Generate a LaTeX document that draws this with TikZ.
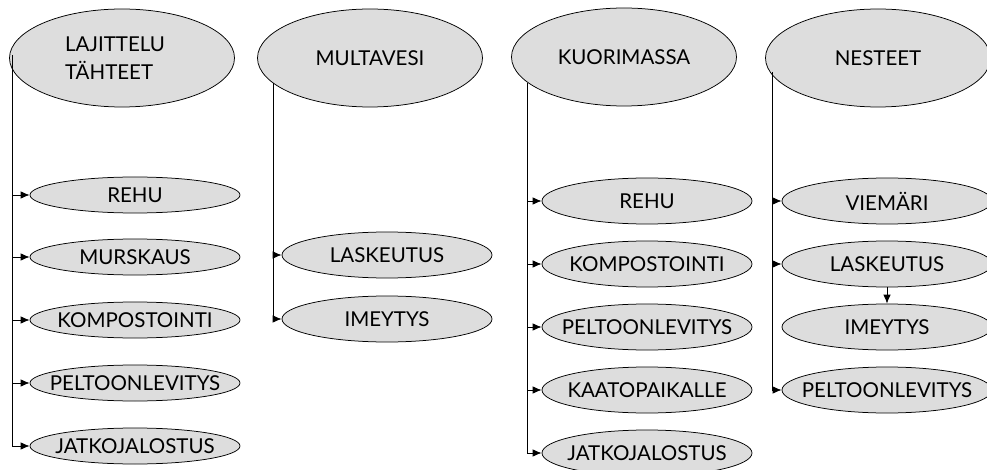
\documentclass[tikz,border=0pt]{standalone}
\usepackage{fontspec}
\setmainfont{Lato}
\usetikzlibrary{shapes.geometric}
\usetikzlibrary{arrows.meta}
\definecolor{ellgray}{RGB}{221,221,221}

\begin{document}
\begin{tikzpicture}[x=1pt,y=-1pt,line width=0.75pt,
        main/.style={ellipse,draw,fill=ellgray,inner sep=-22pt,minimum width=225pt,minimum height=98pt,font=\fontsize{20.5}{28}\selectfont},
        sub/.style={ellipse,draw,fill=ellgray,inner sep=-22pt,minimum width=210pt,minimum height=46pt,font=\fontsize{20.5}{24}\selectfont},
        subs/.style={sub,minimum height=36pt},
        arr/.style={-{Latex[length=9pt,width=7.5pt]}}]
        \useasboundingbox (0,0) rectangle (987,470);
        % main groups
        \node[main,align=left] (lajit) at (122,58) {LAJITTELU\hspace*{14pt}\\TÄHTEET};
        \node[main] (multa) at (370,58) {MULTAVESI};
        \node[main] (kuori) at (624,57) {KUORIMASSA};
        \node[main] (neste) at (878,58) {NESTEET};
        % first column
        \node[subs] (lrehu) at (135,195) {REHU};
        \node[subs] (lmursk) at (135,257) {MURSKAUS};
        \node[subs] (lkomp) at (135,320) {KOMPOSTOINTI};
        \node[subs] (lpelto) at (135,383) {PELTOONLEVITYS};
        \node[subs] (ljatko) at (135,446) {JATKOJALOSTUS};
        % second column
        \node[sub] (mlask) at (387,255) {LASKEUTUS};
        \node[sub] (mimey) at (387,319) {IMEYTYS};
        % third column
        \node[sub] (krehu) at (647,201) {REHU};
        \node[sub] (kkomp) at (647,264) {KOMPOSTOINTI};
        \node[sub] (kpelto) at (647,327) {PELTOONLEVITYS};
        \node[sub] (kkaato) at (647,390) {KAATOPAIKALLE};
        \node[sub] (kjatko) at (647,453) {JATKOJALOSTUS};
        % fourth column
        \node[sub] (nviem) at (887,201) {VIEMÄRI};
        \node[sub] (nlask) at (887,264) {LASKEUTUS};
        \node[sub] (nimey) at (887,327) {IMEYTYS};
        \node[sub] (npelto) at (887,390) {PELTOONLEVITYS};
        % trunks
        \coordinate (la) at (12,55);
        \coordinate (lb) at (12,446);
        \coordinate (ma) at (273,83);
        \coordinate (mb) at (273,319);
        \coordinate (ka) at (527,83);
        \coordinate (kb) at (527,453);
        \coordinate (na) at (772,72);
        \coordinate (nb) at (772,390);
        \draw (la) -- (lb);
        \draw (ma) -- (mb);
        \draw (ka) -- (kb);
        \draw (na) -- (nb);
        \foreach \n in {lrehu,lmursk,lkomp,lpelto,ljatko}
            \draw[arr] (la |- \n.west) -- (\n.west);
        \foreach \n in {mlask,mimey}
            \draw[arr] (ma |- \n.west) -- (\n.west);
        \foreach \n in {krehu,kkomp,kpelto,kkaato,kjatko}
            \draw[arr] (ka |- \n.west) -- (\n.west);
        \foreach \n in {nviem,nlask,npelto}
            \draw[arr] (na |- \n.west) -- (\n.west);
        \draw[arr] (nlask.south) -- (nimey.north);
\end{tikzpicture}
\end{document}
